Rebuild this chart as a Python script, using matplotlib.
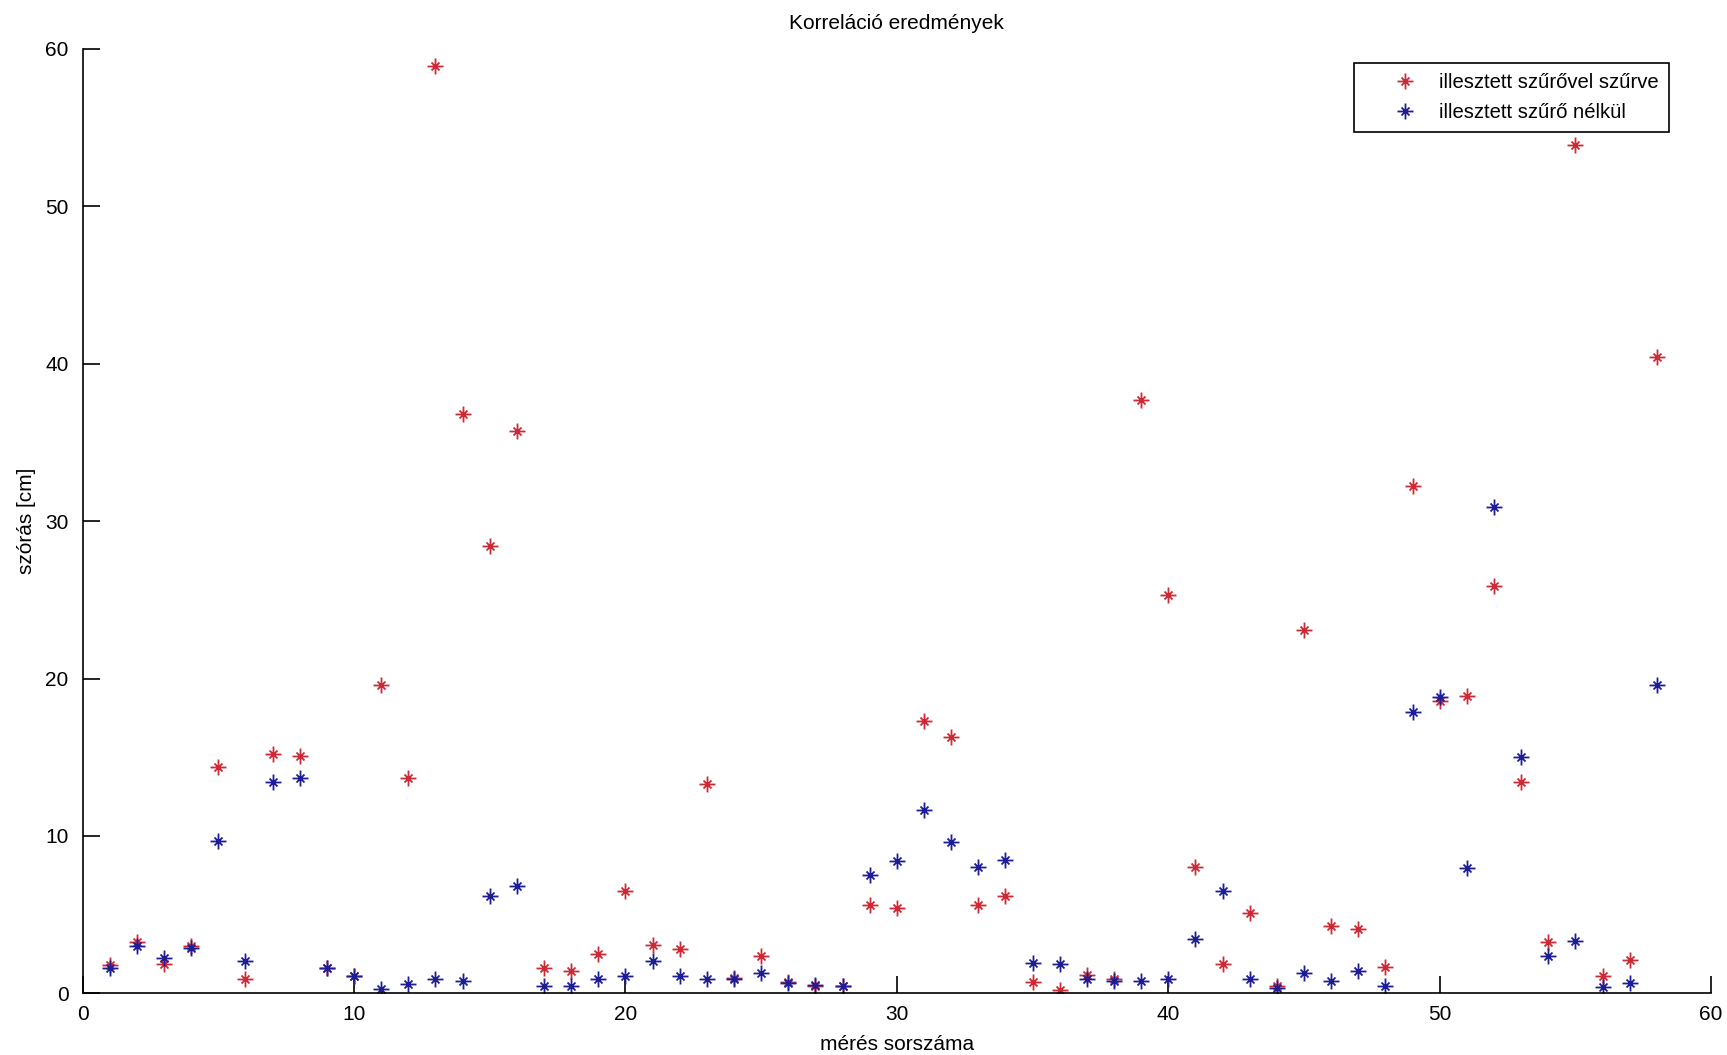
import numpy as np
import matplotlib
matplotlib.use("Agg")
import matplotlib.pyplot as plt
from matplotlib.path import Path

plt.rcParams['font.family'] = ['Liberation Sans Narrow', 'Liberation Sans', 'DejaVu Sans']

# measurement index
meres = np.arange(1, 59)

# scatter with the matched filter applied
szurt = [1.8, 3.3, 1.9, 3.0, 14.4, 0.95, 15.2, 15.1, 1.6, 1.1,
         19.6, 13.7, 58.9, 36.8, 28.4, 35.7, 1.6, 1.4, 2.5, 6.5,
         3.1, 2.8, 13.3, 1.0, 2.4, 0.7, 0.5, 0.5, 5.6, 5.4,
         17.3, 16.3, 5.6, 6.2, 0.7, 0.2, 1.2, 0.95, 37.7, 25.3,
         8.0, 1.9, 5.1, 0.5, 23.1, 4.3, 4.1, 1.7, 32.2, 18.6,
         18.9, 25.9, 13.4, 3.3, 53.9, 1.1, 2.1, 40.4]

# scatter without the matched filter
szuretlen = [1.6, 3.0, 2.25, 2.9, 9.7, 2.05, 13.4, 13.7, 1.6, 1.1,
             0.3, 0.6, 0.95, 0.8, 6.2, 6.8, 0.5, 0.5, 0.95, 1.1,
             2.05, 1.1, 0.95, 0.9, 1.3, 0.65, 0.55, 0.45, 7.5, 8.4,
             11.65, 9.6, 8.0, 8.5, 1.95, 1.85, 0.95, 0.8, 0.8, 0.9,
             3.45, 6.5, 0.95, 0.35, 1.3, 0.8, 1.4, 0.5, 17.85, 18.8,
             7.95, 30.9, 15.0, 2.4, 3.35, 0.4, 0.65, 19.6]

labels = ["illesztett szűrővel szűrve", "illesztett szűrő nélkül"]

# MATLAB-like asterisk: long plus arms, short diagonals
d = 0.5
asterisk = Path(
    [(0, -1), (0, 1), (-1, 0), (1, 0), (-d, -d), (d, d), (-d, d), (d, -d)],
    [Path.MOVETO, Path.LINETO] * 4)

fig = plt.figure(figsize=(17.27, 10.55), dpi=100)
ax = fig.add_axes([0.0478, 0.0583, 0.943, 0.8957])

ax.plot(meres, szurt, linestyle='none', marker=asterisk, markersize=11.5,
        markeredgewidth=1.3, color='#cc2a36', label=labels[0])
ax.plot(meres, szuretlen, linestyle='none', marker=asterisk, markersize=11.5,
        markeredgewidth=1.3, color='#1d1d96', label=labels[1])

ax.set_xlim(0, 60)
ax.set_ylim(0, 60)
ax.set_xticks(range(0, 61, 10))
ax.set_yticks(range(0, 61, 10))
ax.spines['top'].set_visible(False)
ax.spines['right'].set_visible(False)
ax.spines['left'].set_linewidth(1.2)
ax.spines['bottom'].set_linewidth(1.2)
ax.tick_params(direction='in', length=12, width=1.2, labelsize=15)
ax.tick_params(axis='y', pad=10)
ax.tick_params(axis='x', pad=8)

ax.set_title("Korreláció eredmények", fontsize=15, pad=14)
ax.set_xlabel("mérés sorszáma", fontsize=15, labelpad=8)
ax.set_ylabel("szórás [cm]", fontsize=15, labelpad=7)

leg = fig.legend(loc='upper right', bbox_to_anchor=(0.9664, 0.9405),
                 fontsize=14.6, fancybox=False, framealpha=1,
                 edgecolor='black', borderpad=0.5, handlelength=4.0,
                 handletextpad=-0.3, labelspacing=0.55, numpoints=1,
                 borderaxespad=0)
leg.get_frame().set_linewidth(1.2)

fig.savefig("out.png", dpi=100)
